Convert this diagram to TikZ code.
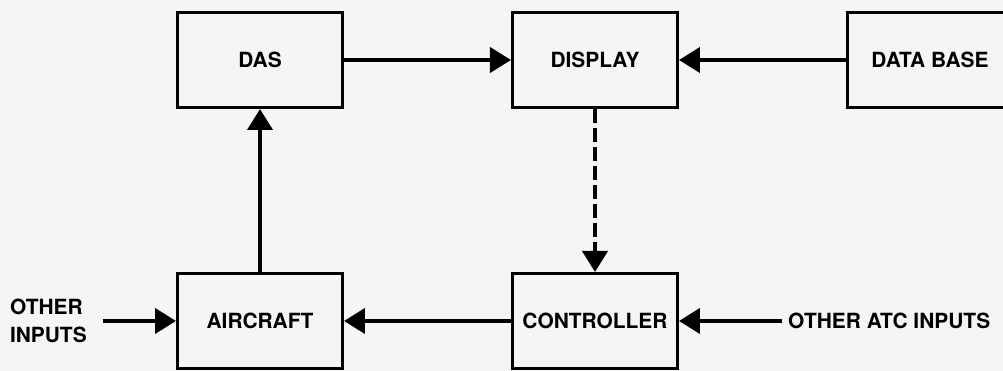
\documentclass[tikz,border=0pt]{standalone}
\usepackage{fontspec}
\setmainfont{TeX Gyre Heros}
\usetikzlibrary{positioning, arrows.meta}

\begin{document}
\begin{tikzpicture}[
    node distance = 32.6mm and 33.4mm,
    block/.style = {draw, rectangle, line width=1.7pt,
                    minimum width=33mm, minimum height=19mm,
                    font=\bfseries\fontsize{11.9}{16}\selectfont},
    inlabel/.style = {align=left, font=\bfseries\fontsize{11.9}{16}\selectfont},
    arrow/.style = {-{Triangle[length=4.2mm, width=5mm]}, line width=2.3pt}
]
\useasboundingbox (0,0) rectangle (20.06,-7.42);
\clip (0,0) rectangle (20.06,-7.42);
\fill[black!4] (0,0) rectangle (20.06,-7.42);

\node[block] (das) at (5.2,-1.2) {DAS};
\node[block, right=of das] (display) {DISPLAY};
\node[block, right=of display] (database) {DATA BASE};
\node[block, below=of das] (aircraft) {AIRCRAFT};
\node[block, below=of display] (controller) {CONTROLLER};
\node[inlabel, left=16.6mm of aircraft] (otherin) {OTHER\\INPUTS};
\node[inlabel, right=20.6mm of controller] (otheratc) {OTHER ATC INPUTS};

\draw[arrow] (das) -- (display);
\draw[arrow] (database) -- (display);
\draw[arrow] (aircraft) -- (das);
\draw[arrow, dash pattern=on 2.8mm off 1mm] (display) -- (controller);
\draw[arrow] (controller) -- (aircraft);
\draw[arrow, shorten <=2mm] (otherin) -- (aircraft);
\draw[arrow] (otheratc) -- (controller);

\end{tikzpicture}
\end{document}
